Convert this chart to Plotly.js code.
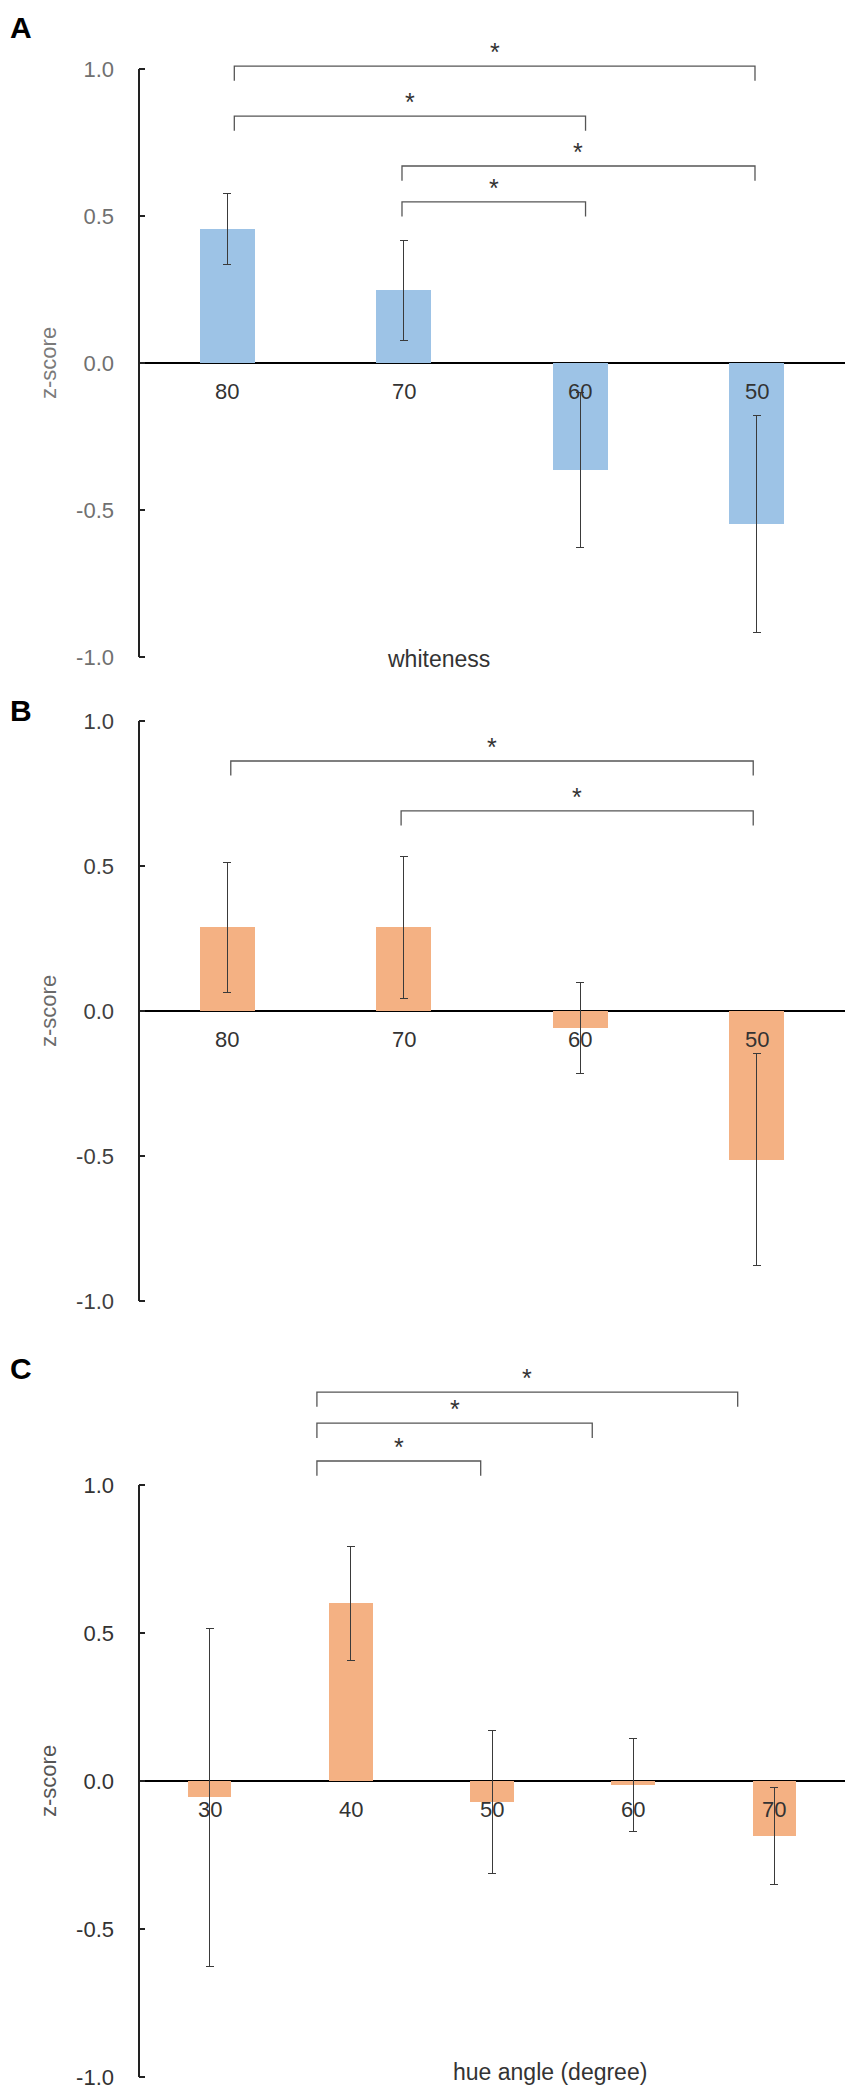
<!DOCTYPE html>
<html>
<head>
<meta charset="utf-8">
<script src="https://cdn.plot.ly/plotly-3.0.1.min.js"></script>
<style>
  html,body{margin:0;padding:0;background:#fff;}
  #chart{width:850px;height:2092px;}
</style>
</head>
<body>
<div id="chart"></div>
<script>
// z-score par niveau de blancheur (A, B) et par angle de teinte (C)

const whitenessLevels = ['80', '70', '60', '50'];
const hueAngles = ['30', '40', '50', '60', '70'];

const zA = [0.456, 0.248, -0.364, -0.548];
const errA = [0.12, 0.17, 0.262, 0.37];
const zB = [0.288, 0.288, -0.058, -0.513];
const errB = [0.225, 0.245, 0.158, 0.365];
const zC = [-0.055, 0.60, -0.071, -0.013, -0.185];
const errC = [0.57, 0.193, 0.24, 0.158, 0.163];

// significance brackets (*): start / end position on the category axis, height in z
const sigA_from = [0.04, 0.04, 0.99, 0.99];
const sigA_to = [2.99, 2.03, 2.99, 2.03];
const sigA_y = [1.01, 0.84, 0.67, 0.548];
const sigB_from = [0.02, 0.985];
const sigB_to = [2.98, 2.98];
const sigB_y = [0.862, 0.69];
const sigC_from = [0.76, 0.76, 0.76];
const sigC_to = [3.74, 2.71, 1.92];
const sigC_y = [1.314, 1.209, 1.081];

const yTickVals = [-1, -0.5, 0, 0.5, 1];
const yTickText = ['-1.0', '-0.5', '0.0', '0.5', '1.0'];

(function(){
  const W = 850, H = 2092;
  const X0 = 139 / W, X1 = 845 / W;
  const FONT = 'Liberation Sans, Arial, sans-serif';

  const panels = [
    {letter:'A', cats:whitenessLevels, z:zA, err:errA, from:sigA_from, to:sigA_to, lvl:sigA_y,
     color:'#9DC3E6', zero:363, unit:294, range:[-1.03, 1.2], letterY:28,
     xtitle:'whiteness', xtitleX:438, xtitleY:-1.007, tickColor:'#707070', ztColor:'#7a7a7a'},
    {letter:'B', cats:whitenessLevels, z:zB, err:errB, from:sigB_from, to:sigB_to, lvl:sigB_y,
     color:'#F4B183', zero:1011, unit:290, range:[-1.03, 1.05], letterY:710,
     xtitle:'whiteness', xtitleX:468, xtitleY:-1.093, tickColor:'#404040', ztColor:'#6a6a6a'},
    {letter:'C', cats:hueAngles, z:zC, err:errC, from:sigC_from, to:sigC_to, lvl:sigC_y,
     color:'#F4B183', zero:1781, unit:296, range:[-1.03, 1.42], letterY:1368,
     xtitle:'hue angle (degree)', xtitleX:550, xtitleY:-0.983, tickColor:'#333333', ztColor:'#555555'}
  ];

  const traces = [];
  const annotations = [];
  const shapes = [];
  const layout = {
    width: W, height: H,
    margin: {t:0, r:0, b:0, l:0},
    paper_bgcolor: '#fff', plot_bgcolor: '#fff',
    showlegend: false,
    font: {family: FONT, color: '#333'},
    bargap: 0
  };

  panels.forEach((p, i) => {
    const s = i === 0 ? '' : String(i + 1);
    const xa = 'x' + s, ya = 'y' + s;
    const idx = p.cats.map((c, k) => k);

    const top = p.zero - p.range[1] * p.unit;
    const bottom = p.zero - p.range[0] * p.unit;
    layout['xaxis' + s] = {
      domain: [X0, X1], range: [-0.5, p.cats.length - 0.5],
      visible: false, anchor: ya, fixedrange: true
    };
    layout['yaxis' + s] = {
      domain: [1 - bottom / H, 1 - top / H], range: p.range, anchor: xa,
      tickvals: yTickVals, ticktext: yTickText,
      ticks: 'inside', ticklen: 6, tickwidth: 2, tickcolor: '#222',
      ticklabelstandoff: 24,
      tickfont: {size: 22, color: p.tickColor, family: FONT},
      showline: false, showgrid: false,
      zeroline: true, zerolinecolor: '#000', zerolinewidth: 2.5,
      fixedrange: true
    };

    traces.push({
      type: 'bar', x: idx, y: p.z, width: 0.31,
      marker: {color: p.color, line: {width: 0}},
      error_y: {type: 'data', array: p.err, visible: true, color: '#3a3a3a', thickness: 1, width: 4},
      xaxis: xa, yaxis: ya, hoverinfo: 'skip'
    });

    // significance brackets
    const drop = 0.05;
    p.from.forEach((f, j) => {
      const t = p.to[j], l = p.lvl[j];
      traces.push({
        type: 'scatter', mode: 'lines',
        x: [f, f, t, t], y: [l - drop, l, l, l - drop],
        line: {color: '#555', width: 1.3},
        xaxis: xa, yaxis: ya, hoverinfo: 'skip'
      });
      annotations.push({
        xref: xa, yref: ya, x: (f + t) / 2, y: l, text: '*',
        showarrow: false, yanchor: 'bottom', yshift: -2,
        font: {size: 25, color: '#333', family: FONT}
      });
    });

    // y axis line from -1 to 1 only
    shapes.push({
      type: 'line', xref: 'paper', yref: ya, x0: X0, x1: X0, y0: -1, y1: 1,
      line: {color: '#222', width: 2}
    });

    // category labels under the zero line
    p.cats.forEach((c, k) => {
      annotations.push({
        xref: xa, yref: ya, x: k, y: 0, text: c, showarrow: false,
        yanchor: 'top', yshift: -14,
        font: {size: 22, color: '#333', family: FONT}
      });
    });

    annotations.push({
      xref: 'paper', yref: 'paper', x: 21 / W, y: 1 - p.letterY / H,
      text: '<b>' + p.letter + '</b>', showarrow: false,
      xanchor: 'center', yanchor: 'middle',
      font: {size: 30, color: '#000', family: FONT}
    });
    annotations.push({
      xref: 'paper', yref: ya, x: 48 / W, y: 0, text: 'z-score',
      textangle: -90, showarrow: false, xanchor: 'center', yanchor: 'middle',
      font: {size: 22, color: p.ztColor, family: FONT}
    });
    annotations.push({
      xref: 'paper', yref: ya, x: p.xtitleX / W, y: p.xtitleY, text: p.xtitle,
      showarrow: false, xanchor: 'center', yanchor: 'middle',
      font: {size: 23, color: '#333', family: FONT}
    });
  });

  layout.annotations = annotations;
  layout.shapes = shapes;

  Plotly.newPlot('chart', traces, layout, {displayModeBar: false, staticPlot: true});
})();
</script>
</body>
</html>
